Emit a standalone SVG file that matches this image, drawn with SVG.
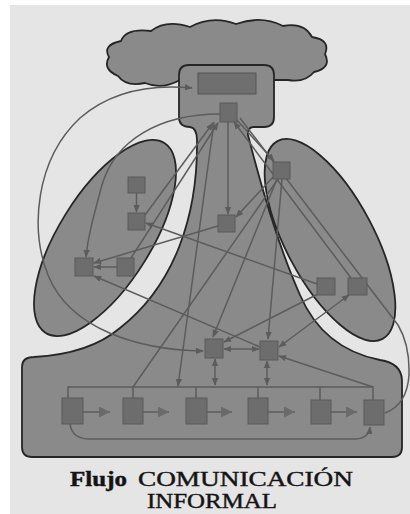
<svg xmlns="http://www.w3.org/2000/svg" width="410" height="514" viewBox="0 0 410 514">
<defs>
<style>
.shape{fill:#8a8a8a;stroke:#262626;stroke-width:1.8}
.node{fill:#6d6d6d;stroke:#5a5a5a;stroke-width:1}
.c{fill:none;stroke:#5c5c5c;stroke-width:1.5}
.ttl{font-family:"Liberation Serif","DejaVu Serif",serif;font-size:20px;fill:#141414;stroke:#141414;stroke-width:0.4}
</style>
<marker id="a" viewBox="0 0 10 10" refX="9" refY="5" markerWidth="8" markerHeight="8" markerUnits="userSpaceOnUse" orient="auto-start-reverse"><path d="M0,1 L10,5 L0,9 z" fill="#5c5c5c"/></marker>
<marker id="b" viewBox="0 0 10 10" refX="10" refY="5" markerWidth="13" markerHeight="11" markerUnits="userSpaceOnUse" orient="auto"><path d="M0,0 L10,5 L0,10 z" fill="#6a6a6a"/></marker>
</defs>
<rect x="0" y="0" width="410" height="514" fill="#ffffff"/>
<rect x="10" y="5" width="400" height="509" fill="#e5e5e5"/>

<g id="cloud">
<path class="shape" d="M118,76 Q102,69 109,57 Q102,45 121,41 Q126,28 151,31 Q166,19 190,27 Q212,15 236,24 Q261,15 283,26 Q304,22 312,37 Q331,40 325,54 Q332,68 314,72 Q305,83 288,80 L180,80 Q162,90 145,83 Q126,87 118,76 Z"/>
</g>

<g id="left-group">
<ellipse class="shape" cx="105" cy="238" rx="112" ry="46" transform="rotate(-58 105 238)"/>
</g>
<g id="right-group">
<ellipse class="shape" cx="330" cy="240" rx="112" ry="44" transform="rotate(62 330 240)"/>
</g>

<g id="organization">
<path class="shape" d="M189,65 H264 Q274,65 274,75 V117 Q274,127 264,127 H253 Q247,128 248,135 C262,190 280,250 300,295 C315,330 340,352 380,360 Q401,363 402,380 V447 Q402,457 392,457 H32 Q22,457 22,447 V367 Q22,357 34,357 C70,355 100,345 120,328 C175,285 198,215 197,140 Q197,128 190,127 Q179,127 179,117 V75 Q179,65 189,65 Z"/>
<rect x="198" y="73" width="58" height="21" fill="#6f6f6f" stroke="#555" stroke-width="1"/>
</g>

<g id="connectors">
<path class="c" d="M203,351 C140,350 70,330 48,275 C30,230 35,160 80,118 C110,92 150,84 192,88" marker-start="url(#a)" marker-end="url(#a)"/>
<path class="c" d="M220,114 C160,114 115,140 102,185 C94,215 88,235 86,257" marker-end="url(#a)"/>
<line class="c" x1="136.5" y1="193" x2="136.5" y2="212" marker-end="url(#a)"/>
<line class="c" x1="117" y1="267" x2="94" y2="267" marker-end="url(#a)"/>
<line class="c" x1="218" y1="226" x2="94" y2="263" marker-end="url(#a)"/>
<line class="c" x1="317" y1="284" x2="146" y2="223" marker-end="url(#a)"/>
<line class="c" x1="260" y1="347" x2="94" y2="276" marker-end="url(#a)"/>
<line class="c" x1="228" y1="122" x2="228" y2="214" marker-end="url(#a)"/>
<line class="c" x1="236" y1="119" x2="274" y2="161" marker-end="url(#a)"/>
<line class="c" x1="145" y1="215" x2="213" y2="123" marker-end="url(#a)"/>
<line class="c" x1="131" y1="258" x2="218" y2="123" marker-end="url(#a)"/>
<line class="c" x1="351" y1="278" x2="234" y2="122" marker-end="url(#a)"/>
<path class="c" d="M240,118 L398,325 Q410,345 409,375 Q407,405 385,413"/>
<line class="c" x1="274" y1="176" x2="236" y2="217" marker-end="url(#a)"/>
<line class="c" x1="277" y1="179" x2="213" y2="337" marker-end="url(#a)"/>
<line class="c" x1="282" y1="179" x2="268" y2="339" marker-end="url(#a)"/>
<line class="c" x1="318" y1="294" x2="224" y2="342" marker-end="url(#a)"/>
<line class="c" x1="279" y1="347" x2="349" y2="295" marker-start="url(#a)" marker-end="url(#a)"/>
<line class="c" x1="373" y1="387" x2="279" y2="356" marker-end="url(#a)"/>
<line class="c" x1="224" y1="349" x2="259" y2="349" marker-start="url(#a)" marker-end="url(#a)"/>
<line class="c" x1="215" y1="359" x2="215" y2="385" marker-start="url(#a)" marker-end="url(#a)"/>
<line class="c" x1="267" y1="361" x2="267" y2="385" marker-start="url(#a)" marker-end="url(#a)"/>
<line class="c" x1="214" y1="122" x2="178" y2="386" marker-end="url(#a)"/>
<line class="c" x1="278" y1="179" x2="133" y2="387"/>
<path class="c" d="M68,398 V387 H373 V400 M133,387 V398 M196,387 V398 M258,387 V398 M320,387 V400"/>
<line class="c" x1="83" y1="412" x2="110" y2="412" marker-end="url(#b)"/>
<line class="c" x1="143" y1="412" x2="169" y2="412" marker-end="url(#b)"/>
<line class="c" x1="207" y1="412" x2="232" y2="412" marker-end="url(#b)"/>
<line class="c" x1="268" y1="412" x2="295" y2="412" marker-end="url(#b)"/>
<line class="c" x1="331" y1="412" x2="357" y2="412" marker-end="url(#b)"/>
<path class="c" d="M70,424 Q72,439 90,439 H356 Q369,438 370,427" marker-end="url(#a)"/>
</g>

<g id="n-top"><rect class="node" x="220" y="103" width="17" height="19"/></g>
<g id="n-l1"><rect class="node" x="128" y="177" width="17" height="16"/></g>
<g id="n-l2"><rect class="node" x="128" y="213" width="17" height="17"/></g>
<g id="n-l3"><rect class="node" x="75" y="258" width="18" height="18"/></g>
<g id="n-l4"><rect class="node" x="117" y="258" width="17" height="18"/></g>
<g id="n-c"><rect class="node" x="218" y="215" width="17" height="17"/></g>
<g id="n-r0"><rect class="node" x="273" y="162" width="17" height="17"/></g>
<g id="n-r1"><rect class="node" x="317" y="278" width="18" height="17"/></g>
<g id="n-r2"><rect class="node" x="348" y="278" width="19" height="17"/></g>
<g id="n-m1"><rect class="node" x="205" y="339" width="18" height="19"/></g>
<g id="n-m2"><rect class="node" x="260" y="341" width="18" height="19"/></g>
<g id="n-b1"><rect class="node" x="62" y="398" width="21" height="26"/></g>
<g id="n-b2"><rect class="node" x="123" y="398" width="20" height="26"/></g>
<g id="n-b3"><rect class="node" x="186" y="398" width="21" height="26"/></g>
<g id="n-b4"><rect class="node" x="248" y="398" width="20" height="26"/></g>
<g id="n-b5"><rect class="node" x="311" y="400" width="20" height="24"/></g>
<g id="n-b6"><rect class="node" x="364" y="400" width="20" height="25"/></g>

<g id="title">
<text class="ttl" x="70" y="486"><tspan font-weight="bold" textLength="57" lengthAdjust="spacingAndGlyphs">Flujo</tspan><tspan x="138" textLength="215" lengthAdjust="spacingAndGlyphs">COMUNICACIÓN</tspan></text>
<text class="ttl" x="147" y="508" textLength="130" lengthAdjust="spacingAndGlyphs">INFORMAL</text>
</g>
</svg>
